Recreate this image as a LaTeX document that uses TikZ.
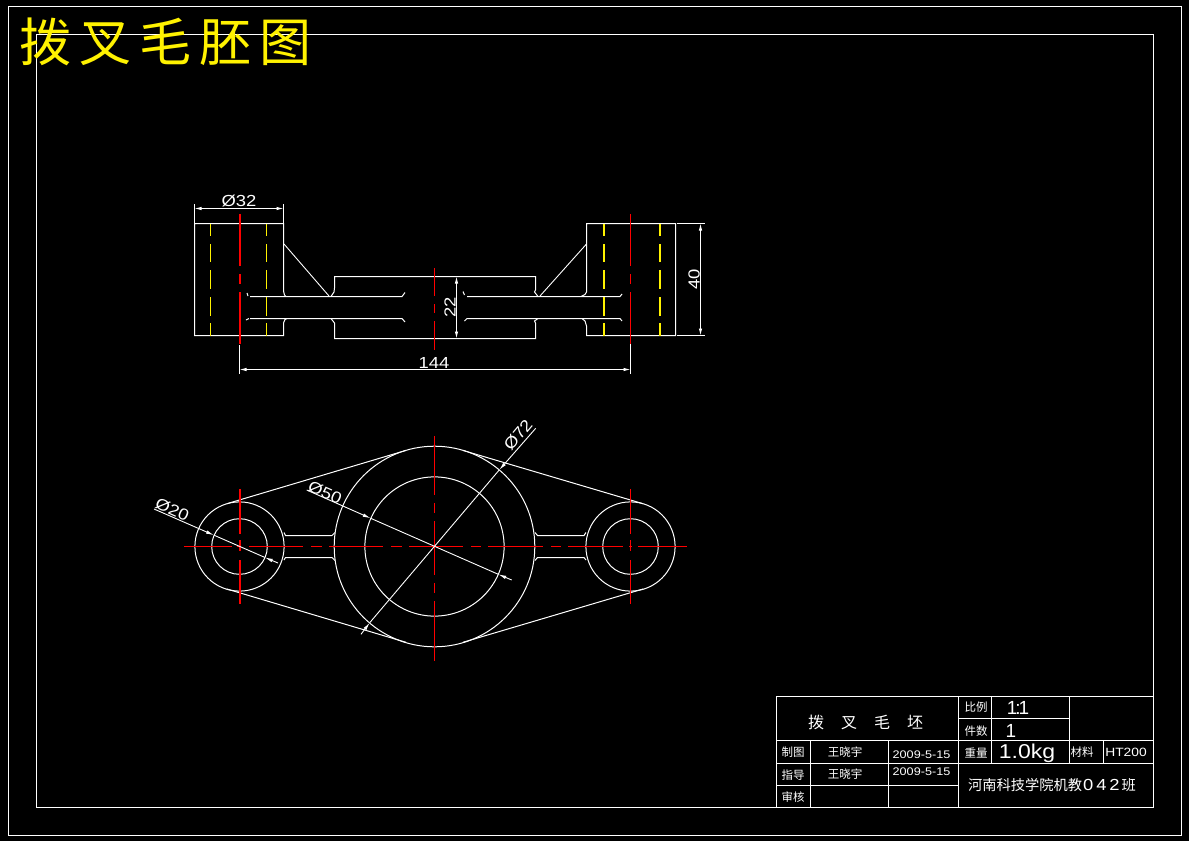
\documentclass[tikz,border=0pt]{standalone}
\usepackage{fontspec}
\usetikzlibrary{arrows.meta}
\setmainfont{Liberation Sans}
\newfontfamily\cadfont[FakeStretch=1.15]{Liberation Sans}
\newfontfamily\cjk{Noto Sans CJK SC}
\tikzset{
  wline/.style={white, line width=1pt},
  fineline/.style={white, line width=0.9pt},
  centreline/.style={red, line width=1.5pt},
  hiddenline/.style={yellow, line width=1.3pt},
  dimline/.style={white, line width=0.9pt, {Latex[length=7pt,width=3.5pt]}-{Latex[length=7pt,width=3.5pt]}},
  leadline/.style={white, line width=0.9pt, -{Latex[length=8pt,width=3.5pt]}},
  dimtext/.style={white, font=\cadfont\fontsize{16}{16}\selectfont, inner sep=0pt},
  celltext/.style={white, font=\cjk\fontsize{11.5}{11.5}\selectfont, inner sep=0pt},
  numtext/.style={white, font=\cadfont\fontsize{11}{11}\selectfont, inner sep=0pt}
}

\begin{document}
\begin{tikzpicture}[x=1pt, y=-1pt]

\useasboundingbox (0,0) rectangle (1189,841);
\fill[black] (0,0) rectangle (1189,841);

% frames
\draw[wline] (8.5,6.5) rectangle (1181.5,835.5);
\draw[wline] (36.5,34.5) rectangle (1153.5,807.5);

% front view, blocks
\draw[wline] (283.5,291) -- (283.5,223.5) -- (194.5,223.5) -- (194.5,335.5) -- (283.5,335.5) -- (283.5,323) -- (285,319.5) -- (287,318.5);
\draw[wline] (283.5,291) -- (284.5,295) -- (286,296.5);
\draw[wline] (586.5,292) -- (586.5,223.5) -- (675.5,223.5) -- (675.5,335.5) -- (586.5,335.5) -- (586.5,326) -- (585,321) -- (582,318.5);
\draw[wline] (586.5,292) -- (585,294.5) -- (581,296.5);
\draw[wline] (331,296.5) -- (334,292) -- (334.5,288) -- (334.5,276.5) -- (535.5,276.5) -- (535.5,290) -- (534.5,292) -- (538,296.5);
\draw[wline] (331,318.5) -- (334.5,323) -- (334.5,338.5) -- (535.5,338.5) -- (535.5,323) -- (534.5,321) -- (538,318.5);
\draw[fineline] (284,244) -- (329,296);
\draw[fineline] (586.5,244) -- (540,296);
\draw[wline] (250,296.5) -- (402,296.5) -- (405,292.5);
\draw[wline] (250,318.5) -- (402,318.5) -- (405,322);
\draw[wline] (247,293) -- (248,296);
\draw[wline] (246,320) -- (249,318.5);
\draw[wline] (463,291.5) -- (464.5,295);
\draw[wline] (464.5,321) -- (467,318.5) -- (620,318.5) -- (622,321);
\draw[wline] (467,296.5) -- (620,296.5) -- (622,294);

% hidden lines
\foreach \hx in {210.5,266.5,604,660}
  \foreach \ya/\yb in {223.5/236,244/262,270/289,297/316,323/335.5}
    \draw[hiddenline] (\hx,\ya) -- (\hx,\yb);

% front view, centre lines
\foreach \cx in {240,630.5}
  \foreach \ya/\yb in {214/266,274/284,292/344}
    \draw[centreline] (\cx,\ya) -- (\cx,\yb);
\foreach \ya/\yb in {268/296,304/313,321/350}
  \draw[centreline] (434.5,\ya) -- (434.5,\yb);

% front view, dimensions
\draw[fineline] (194.5,204) -- (194.5,223);
\draw[fineline] (283.5,204) -- (283.5,223);
\draw[dimline] (194.5,208.5) -- (283.5,208.5);
\node[dimtext] (dimA) at (239,200.5) {Ø32};
\draw[fineline] (239.5,345) -- (239.5,373.5);
\draw[fineline] (630.5,344) -- (630.5,373.5);
\draw[dimline] (239.5,369.5) -- (630.5,369.5);
\node[dimtext] (dimB) at (434,363) {144};
\draw[fineline] (677,223.5) -- (705,223.5);
\draw[fineline] (677,335.5) -- (705,335.5);
\draw[dimline] (700.5,223.5) -- (700.5,335.5);
\node[dimtext, rotate=90] (dimC) at (694,279.5) {40};
\draw[dimline] (456.5,276.5) -- (456.5,338.5);
\node[dimtext, rotate=90] (dimD) at (450,307.5) {22};

% top view
\coordinate (bigc) at (434.5,546.5);
\coordinate (leftc) at (239.5,546.5);
\coordinate (rightc) at (630.5,546.5);
\draw[wline] (bigc) circle[radius=100.3pt];
\draw[wline] (bigc) circle[radius=69.6pt];
\foreach \c in {leftc,rightc} {
  \draw[wline] (\c) circle[radius=44.6pt];
  \draw[wline] (\c) circle[radius=27.8pt];
}
\draw[wline] (226.9,503.7) -- (406,450.4);
\draw[wline] (226.9,589) -- (406,642.3);
\draw[wline] (643,503.7) -- (462.9,450.4);
\draw[wline] (643,589) -- (462.9,642.3);

% arms
\draw[wline] (284,532.5) -- (285.5,535.5) -- (332,535.5) -- (335,532.5);
\draw[wline] (284,560) -- (285.5,557.5) -- (332,557.5) -- (335,560.5);
\draw[wline] (535,532.5) -- (537.5,535.5) -- (584,535.5) -- (586,532.5);
\draw[wline] (535,560.5) -- (537.5,557.5) -- (584,557.5) -- (586,560);

% top view, centre lines
\foreach \xa/\xb in {184/232,237/241,249/303,311/322,329/383,391/402,409/463,471/481,488/543,551/561,568/623,629/632,638/687}
  \draw[centreline] (\xa,546.5) -- (\xb,546.5);
\foreach \ya/\yb in {436/495,503/513,521/575,583/593,601/661}
  \draw[centreline] (434.5,\ya) -- (434.5,\yb);
\foreach \cx in {240,630.5}
  \foreach \ya/\yb in {489/534,540/551,560/604}
    \draw[centreline] (\cx,\ya) -- (\cx,\yb);

% top view, dimensions
\draw[leadline] (154,509) -- (214,535.2);
\draw[leadline] (278,563) -- (264.8,557.4);
\draw[fineline] (214,535.2) -- (264.8,557.4);
\node[dimtext, rotate=-24] (dimE) at (172.3,509.5) {Ø20};
\draw[leadline] (306.7,490) -- (370.7,518.3);
\draw[leadline] (511.7,580) -- (498.3,574.3);
\draw[fineline] (370.7,518.3) -- (498.3,574.3);
\node[dimtext, rotate=-24] (dimF) at (325,492.5) {Ø50};
\draw[leadline] (535.7,428.3) -- (499.2,470);
\draw[leadline] (361,634.3) -- (369.8,622.6);
\draw[fineline] (499.2,470) -- (369.8,622.6);
\node[dimtext, rotate=50] (dimG) at (518,435) {Ø72};

% title block
\draw[wline] (776.5,696.5) rectangle (1153.5,807.5);
\draw[wline] (776.5,740.5) -- (1153.5,740.5);
\draw[wline] (776.5,763.5) -- (1153.5,763.5);
\draw[wline] (776.5,785.5) -- (958.5,785.5);
\draw[wline] (958.5,718.5) -- (1069.5,718.5);
\draw[wline] (958.5,696.5) -- (958.5,807.5);
\draw[wline] (991.5,696.5) -- (991.5,763.5);
\draw[wline] (1069.5,696.5) -- (1069.5,763.5);
\draw[wline] (1103.5,740.5) -- (1103.5,763.5);
\draw[wline] (810.5,740.5) -- (810.5,807.5);
\draw[wline] (888.5,740.5) -- (888.5,807.5);

\node[celltext, font=\cjk\fontsize{16}{16}\selectfont] (blockname) at (865.5,722) {拨\hspace{17pt}叉\hspace{17pt}毛\hspace{17pt}坯};
\node[celltext] (lblA) at (793,752) {制图};
\node[celltext] (lblB) at (793,775) {指导};
\node[celltext] (lblC) at (793,797) {审核};
\node[celltext] (drawer) at (845,752) {王晓宇};
\node[celltext] (checker) at (845,774) {王晓宇};
\node[numtext] (dateA) at (921.5,755) {2009-5-15};
\node[numtext] (dateB) at (921.5,772) {2009-5-15};
\node[celltext] (lblD) at (976,707) {比例};
\node[celltext] (lblE) at (976,731) {件数};
\node[celltext] (lblF) at (976,753) {重量};
\node[numtext, font=\fontsize{19}{19}\selectfont] (ratio) at (1018,708) {1\hspace{-2pt}:\hspace{-2pt}1};
\node[numtext, font=\fontsize{19}{19}\selectfont] (count) at (1011,731) {1};
\node[numtext, font=\cadfont\fontsize{20}{20}\selectfont] (weight) at (1027,753) {1.0kg};
\node[celltext] (lblG) at (1082,752) {材料};
\node[numtext, font=\cadfont\fontsize{12}{12}\selectfont] (material) at (1126,752) {HT200};
\node[celltext, font=\cjk\fontsize{14.25}{14.25}\selectfont] (school) at (1052,785) {河南科技学院机教{\cadfont\fontsize{16}{16}\selectfont\hspace{1pt}0\hspace{3pt}4\hspace{3pt}2\hspace{2pt}}班};

% drawing title
\node[yellow, font=\cjk\fontsize{52}{52}\selectfont, inner sep=0pt, anchor=west] (title) at (19,42) {拨\hspace{8pt}叉\hspace{8pt}毛\hspace{8pt}胚\hspace{8pt}图};

\end{tikzpicture}
\end{document}
